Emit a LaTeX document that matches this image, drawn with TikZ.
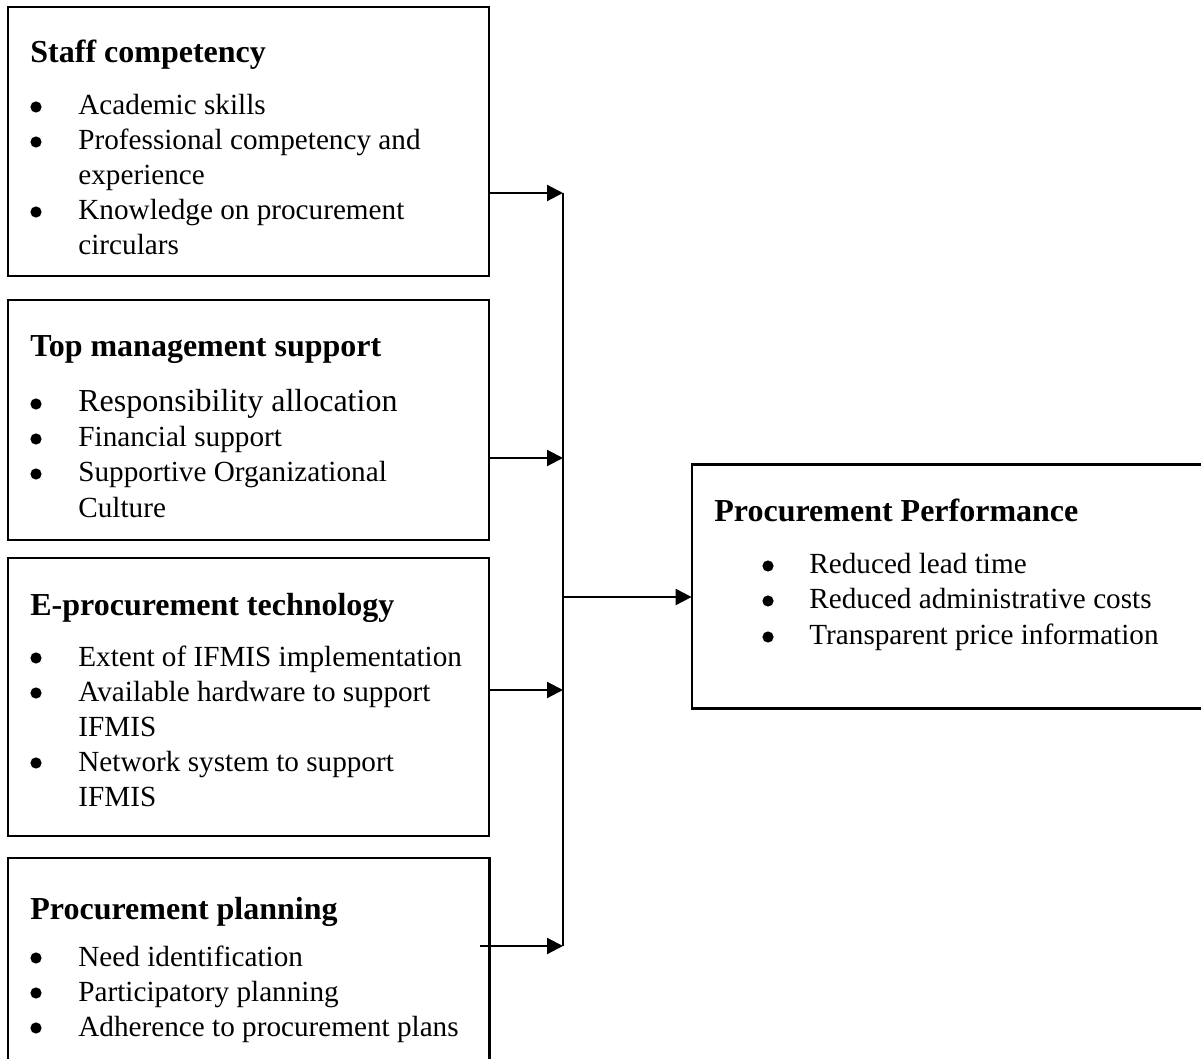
\documentclass[tikz,border=0pt]{standalone}
\usepackage{fontspec}
\setmainfont{Liberation Serif}
\usetikzlibrary{arrows.meta}
\newcommand{\bitem}[5]{%
  \node[bul] (#1b) at (#2,{#4-8}) {};
  \node[itm] (#1) at (#3,#4) {#5};}
\begin{document}
\begin{tikzpicture}[x=0.5pt,y=-0.5pt,
  box/.style={draw, line width=1.1pt, rectangle, inner sep=0pt},
  hbox/.style={rectangle, inner sep=0pt},
  ttl/.style={anchor=base west, inner sep=0pt, font=\fontsize{16}{19}\selectfont\bfseries},
  itm/.style={anchor=base west, inner sep=0pt, font=\fontsize{14.6}{17.5}\selectfont},
  bul/.style={circle, fill, draw=none, inner sep=0pt, minimum size=5.6pt},
  conn/.style={line width=1.1pt},
  arr/.style={line width=1.1pt, -{Triangle[length=8pt,width=8pt]}}]
\useasboundingbox (0,0) rectangle (1201,1059);

% boxes
\node[box, minimum width=240.5pt, minimum height=134.5pt] (b1) at (248.5,141.5) {};
\node[box, minimum width=240.5pt, minimum height=120pt] (b2) at (248.5,420) {};
\node[box, minimum width=240.5pt, minimum height=139pt] (b3) at (248.5,697) {};
\node[hbox, minimum width=240.5pt, minimum height=102pt] (b4) at (248.5,960) {};
\draw[conn] (b4.south west) -- (b4.north west) -- (b4.north east) -- (b4.south east);
\node[hbox, minimum width=256pt, minimum height=121.5pt] (b5) at (948,586.5) {};
\draw[conn] (b5.north east) -- (b5.north west) -- (b5.south west) -- (b5.south east);

% box 1
\node[ttl] (t1) at (30,63) {Staff competency};
\bitem{a1}{36}{78}{115}{Academic skills}
\bitem{a2}{36}{78}{150}{Professional competency and}
\node[itm] (a2c) at (78,185) {experience};
\bitem{a3}{36}{78}{220}{Knowledge on procurement}
\node[itm] (a3c) at (78,255) {circulars};

% box 2
\node[ttl] (t2) at (30,357) {Top management support};
\node[bul] (c1b) at (36,404) {};
\node[itm, font=\fontsize{16}{19}\selectfont] (c1) at (78,412) {Responsibility allocation};
\bitem{c2}{36}{78}{447}{Financial support}
\bitem{c3}{36}{78}{482}{Supportive Organizational}
\node[itm] (c3c) at (78,517) {Culture};

% box 3
\node[ttl] (t3) at (30,615) {E-procurement technology};
\bitem{d1}{36}{78}{666}{Extent of IFMIS implementation}
\bitem{d2}{36}{78}{701}{Available hardware to support}
\node[itm] (d2c) at (78,736) {IFMIS};
\bitem{d3}{36}{78}{771}{Network system to support}
\node[itm] (d3c) at (78,806) {IFMIS};

% box 4
\node[ttl] (t4) at (30,919) {Procurement planning};
\bitem{e1}{36}{78}{966}{Need identification}
\bitem{e2}{36}{78}{1001}{Participatory planning}
\bitem{e3}{36}{78}{1036}{Adherence to procurement plans}

% box 5
\node[ttl] (t5) at (714,522) {Procurement Performance};
\bitem{f1}{768}{809}{574}{Reduced lead time}
\bitem{f2}{768}{809}{609}{Reduced administrative costs}
\bitem{f3}{768}{809}{645}{Transparent price information}

% connectors
\coordinate (j1) at (563,193);
\coordinate (j2) at (563,458);
\coordinate (j3) at (563,690);
\coordinate (j4) at (563,946);
\coordinate (jm) at (563,597);
\coordinate (s4) at (480,946);
\draw[conn] (j1) -- (j4);
\draw[arr] (b1.east |- j1) -- (j1);
\draw[arr] (b2.east |- j2) -- (j2);
\draw[arr] (b3.east |- j3) -- (j3);
\draw[arr] (s4) -- (j4);
\draw[arr] (jm) -- (b5.west |- jm);
\end{tikzpicture}
\end{document}
